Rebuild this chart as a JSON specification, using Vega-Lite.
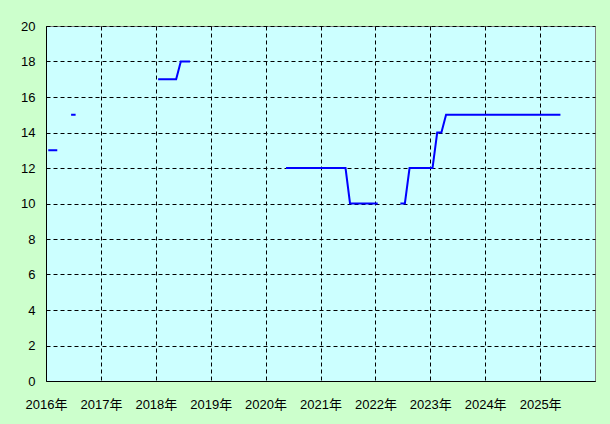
{
  "$schema": "https://vega.github.io/schema/vega-lite/v6.json",
  "autosize": "none",
  "width": 549,
  "height": 355,
  "padding": {"left": 46, "top": 26, "right": 15, "bottom": 43},
  "background": "#ccffcc",
  "config": {
    "view": {"fill": "#ccffff", "stroke": "#808080", "strokeWidth": 1},
    "axis": {
      "labelFont": "Liberation Sans, Noto Sans CJK JP, sans-serif",
      "labelFontSize": 13,
      "labelColor": "#000000",
      "domainColor": "#000000",
      "domainWidth": 1,
      "grid": true,
      "gridColor": "#000000",
      "gridDash": [4, 3],
      "gridWidth": 1,
      "gridOpacity": 1,
      "ticks": false,
      "title": null,
      "zindex": 0
    }
  },
  "data": {
    "values": [
      {"d": "2016-01-16", "v": 13, "s": "a"},
      {"d": "2016-02-16", "v": 13, "s": "a"},
      {"d": "2016-03-16", "v": 13, "s": "a"},
      {"d": "2016-06-16", "v": 15, "s": "b"},
      {"d": "2016-07-16", "v": 15, "s": "b"},
      {"d": "2018-01-16", "v": 17, "s": "c"},
      {"d": "2018-02-16", "v": 17, "s": "c"},
      {"d": "2018-03-16", "v": 17, "s": "c"},
      {"d": "2018-04-16", "v": 17, "s": "c"},
      {"d": "2018-05-16", "v": 17, "s": "c"},
      {"d": "2018-06-16", "v": 18, "s": "c"},
      {"d": "2018-07-16", "v": 18, "s": "c"},
      {"d": "2018-08-16", "v": 18, "s": "c"},
      {"d": "2020-05-16", "v": 12, "s": "d"},
      {"d": "2020-06-16", "v": 12, "s": "d"},
      {"d": "2020-07-16", "v": 12, "s": "d"},
      {"d": "2020-08-16", "v": 12, "s": "d"},
      {"d": "2020-09-16", "v": 12, "s": "d"},
      {"d": "2020-10-16", "v": 12, "s": "d"},
      {"d": "2020-11-16", "v": 12, "s": "d"},
      {"d": "2020-12-16", "v": 12, "s": "d"},
      {"d": "2021-01-16", "v": 12, "s": "d"},
      {"d": "2021-02-16", "v": 12, "s": "d"},
      {"d": "2021-03-16", "v": 12, "s": "d"},
      {"d": "2021-04-16", "v": 12, "s": "d"},
      {"d": "2021-05-16", "v": 12, "s": "d"},
      {"d": "2021-06-16", "v": 12, "s": "d"},
      {"d": "2021-07-16", "v": 10, "s": "d"},
      {"d": "2021-08-16", "v": 10, "s": "d"},
      {"d": "2021-09-16", "v": 10, "s": "d"},
      {"d": "2021-10-16", "v": 10, "s": "d"},
      {"d": "2021-11-16", "v": 10, "s": "d"},
      {"d": "2021-12-16", "v": 10, "s": "d"},
      {"d": "2022-01-16", "v": 10, "s": "d"},
      {"d": "2022-06-16", "v": 10, "s": "e"},
      {"d": "2022-07-16", "v": 10, "s": "e"},
      {"d": "2022-08-16", "v": 12, "s": "e"},
      {"d": "2022-09-16", "v": 12, "s": "e"},
      {"d": "2022-10-16", "v": 12, "s": "e"},
      {"d": "2022-11-16", "v": 12, "s": "e"},
      {"d": "2022-12-16", "v": 12, "s": "e"},
      {"d": "2023-01-16", "v": 12, "s": "e"},
      {"d": "2023-02-16", "v": 14, "s": "e"},
      {"d": "2023-03-16", "v": 14, "s": "e"},
      {"d": "2023-04-16", "v": 15, "s": "e"},
      {"d": "2023-05-16", "v": 15, "s": "e"},
      {"d": "2023-06-16", "v": 15, "s": "e"},
      {"d": "2023-07-16", "v": 15, "s": "e"},
      {"d": "2023-08-16", "v": 15, "s": "e"},
      {"d": "2023-09-16", "v": 15, "s": "e"},
      {"d": "2023-10-16", "v": 15, "s": "e"},
      {"d": "2023-11-16", "v": 15, "s": "e"},
      {"d": "2023-12-16", "v": 15, "s": "e"},
      {"d": "2024-01-16", "v": 15, "s": "e"},
      {"d": "2024-02-16", "v": 15, "s": "e"},
      {"d": "2024-03-16", "v": 15, "s": "e"},
      {"d": "2024-04-16", "v": 15, "s": "e"},
      {"d": "2024-05-16", "v": 15, "s": "e"},
      {"d": "2024-06-16", "v": 15, "s": "e"},
      {"d": "2024-07-16", "v": 15, "s": "e"},
      {"d": "2024-08-16", "v": 15, "s": "e"},
      {"d": "2024-09-16", "v": 15, "s": "e"},
      {"d": "2024-10-16", "v": 15, "s": "e"},
      {"d": "2024-11-16", "v": 15, "s": "e"},
      {"d": "2024-12-16", "v": 15, "s": "e"},
      {"d": "2025-01-16", "v": 15, "s": "e"},
      {"d": "2025-02-16", "v": 15, "s": "e"},
      {"d": "2025-03-16", "v": 15, "s": "e"},
      {"d": "2025-04-16", "v": 15, "s": "e"},
      {"d": "2025-05-16", "v": 15, "s": "e"}
    ]
  },
  "mark": {"type": "line", "color": "#0000ff", "strokeWidth": 2, "clip": true, "zindex": 1},
  "encoding": {
    "x": {
      "field": "d",
      "type": "temporal",
      "scale": {
        "type": "utc",
        "domain": [
          {"year": 2016, "month": 1, "date": 1, "utc": true},
          {"year": 2026, "month": 1, "date": 1, "utc": true}
        ]
      },
      "axis": {
        "labelExpr": "utcFormat(datum.value, '%Y') + '年'",
        "values": [
          {"year": 2016, "month": 1, "date": 1, "utc": true},
          {"year": 2017, "month": 1, "date": 1, "utc": true},
          {"year": 2018, "month": 1, "date": 1, "utc": true},
          {"year": 2019, "month": 1, "date": 1, "utc": true},
          {"year": 2020, "month": 1, "date": 1, "utc": true},
          {"year": 2021, "month": 1, "date": 1, "utc": true},
          {"year": 2022, "month": 1, "date": 1, "utc": true},
          {"year": 2023, "month": 1, "date": 1, "utc": true},
          {"year": 2024, "month": 1, "date": 1, "utc": true},
          {"year": 2025, "month": 1, "date": 1, "utc": true}
        ],
        "labelPadding": 17,
        "labelAlign": "center",
        "labelFlush": false,
        "labelOverlap": false
      }
    },
    "y": {
      "field": "v",
      "type": "quantitative",
      "scale": {"domain": [0, 20], "nice": false, "zero": true},
      "axis": {
        "values": [0, 2, 4, 6, 8, 10, 12, 14, 16, 18, 20],
        "labelPadding": 11,
        "labelFlush": false,
        "labelBaseline": "middle",
        "labelOverlap": false
      }
    },
    "detail": {"field": "s", "type": "nominal"}
  }
}
